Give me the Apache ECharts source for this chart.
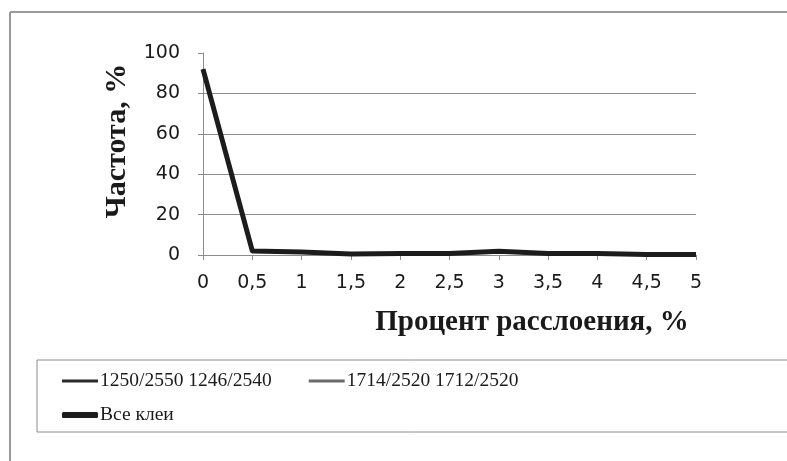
<!DOCTYPE html>
<html>
<head>
<meta charset="utf-8">
<script src="https://cdn.jsdelivr.net/npm/echarts@6/dist/echarts.min.js"></script>
<style>html,body{margin:0;padding:0;background:#fff}#c{width:787px;height:461px}</style>
</head>
<body>
<div id="c"></div>
<script>
var categories = ['0', '0,5', '1', '1,5', '2', '2,5', '3', '3,5', '4', '4,5', '5'];
var seriesNames = ['1250/2550 1246/2540', '1714/2520 1712/2520', 'Все клеи'];
var valuesA = [92, 2, 1.5, 0.5, 0.7, 0.7, 1.8, 0.8, 0.8, 0.3, 0.3];
var valuesB = [92, 2, 1.5, 0.5, 0.7, 0.7, 1.8, 0.8, 0.8, 0.3, 0.3];
var valuesAll = [92, 2, 1.5, 0.5, 0.7, 0.7, 1.8, 0.8, 0.8, 0.3, 0.3];
var yTicks = [0, 20, 40, 60, 80, 100];
var xTitle = 'Процент расслоения, %';
var yTitle = 'Частота, %';

var chart = echarts.init(document.getElementById('c'));
var serif = '"Liberation Serif", "Times New Roman", serif';
var sans = '"DejaVu Sans", "Liberation Sans", sans-serif';
var thinIcon = 'path://M0,0 L36,0 L36,3 L0,3 Z';
var legendText = {fontFamily: serif, fontSize: 19.5, color: '#1a1a1a', padding: [0, 0, 0, -3]};
chart.setOption({
  animation: false,
  backgroundColor: '#fff',
  grid: {left: 203, right: 91, top: 53, bottom: 206, containLabel: false},
  xAxis: {
    type: 'category', data: categories, boundaryGap: false,
    axisLine: {lineStyle: {color: '#8c8c8c', width: 1}},
    axisTick: {show: true, length: 5, lineStyle: {color: '#8c8c8c'}},
    axisLabel: {color: '#1a1a1a', fontFamily: sans, fontSize: 19, margin: 19},
    splitLine: {show: false}
  },
  yAxis: {
    type: 'value', min: yTicks[0], max: yTicks[yTicks.length - 1], interval: yTicks[1] - yTicks[0],
    axisLine: {show: true, lineStyle: {color: '#8c8c8c', width: 1}},
    axisTick: {show: true, length: 5, lineStyle: {color: '#8c8c8c'}},
    axisLabel: {color: '#1a1a1a', fontFamily: sans, fontSize: 19, margin: 23},
    splitLine: {show: true, showMinLine: false, showMaxLine: false, lineStyle: {color: '#8c8c8c', width: 1}}
  },
  legend: [
    {
      left: 57, top: 366,
      orient: 'horizontal',
      itemWidth: 36, itemHeight: 6, itemGap: 37,
      textStyle: legendText,
      data: [
        {name: seriesNames[0], icon: thinIcon},
        {name: seriesNames[1], icon: thinIcon}
      ]
    },
    {
      left: 57, top: 400,
      orient: 'horizontal',
      itemWidth: 36, itemHeight: 6, itemGap: 37,
      textStyle: legendText,
      data: [
        {name: seriesNames[2], icon: 'roundRect'}
      ]
    }
  ],
  graphic: [
    {type: 'line', shape: {x1: 10, y1: 12, x2: 787, y2: 12}, style: {stroke: '#9a9a9a', lineWidth: 2}},
    {type: 'line', shape: {x1: 10, y1: 12, x2: 10, y2: 461}, style: {stroke: '#9a9a9a', lineWidth: 2}},
    {type: 'rect', shape: {x: 37, y: 360, width: 760, height: 72}, style: {stroke: '#8c8c8c', fill: 'none', lineWidth: 1}},
    {type: 'text', x: 532, y: 323, style: {text: xTitle, font: 'bold 29px ' + serif, fill: '#1a1a1a', textAlign: 'center', textVerticalAlign: 'middle'}},
    {type: 'text', x: 117, y: 141, rotation: Math.PI / 2, style: {text: yTitle, font: 'bold 30px ' + serif, fill: '#1a1a1a', textAlign: 'center', textVerticalAlign: 'middle'}}
  ],
  series: [
    {name: seriesNames[0], type: 'line', data: valuesA, showSymbol: false, symbol: 'none', itemStyle: {color: '#2a2a2a'}, lineStyle: {color: '#2a2a2a', width: 2}, z: 2},
    {name: seriesNames[1], type: 'line', data: valuesB, showSymbol: false, symbol: 'none', itemStyle: {color: '#6a6a6a'}, lineStyle: {color: '#6a6a6a', width: 2}, z: 3},
    {name: seriesNames[2], type: 'line', data: valuesAll, showSymbol: false, symbol: 'none', itemStyle: {color: '#1c1c1c'}, lineStyle: {color: '#1c1c1c', width: 5, join: 'round'}, z: 4}
  ]
});
</script>
</body>
</html>
